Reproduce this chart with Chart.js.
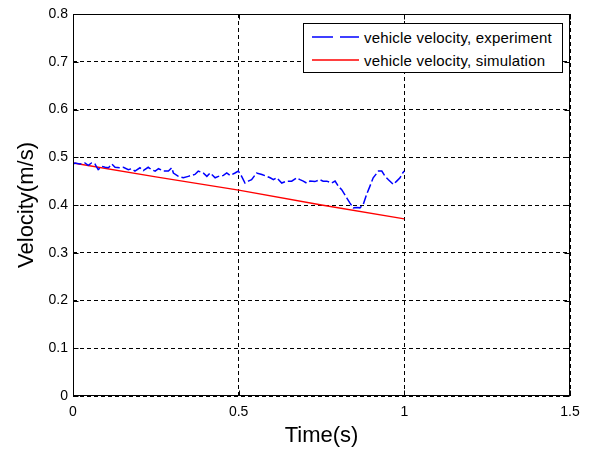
<!DOCTYPE html>
<html>
<head>
<meta charset="utf-8">
<script src="https://cdn.jsdelivr.net/npm/chart.js@4.4.0/dist/chart.umd.min.js"></script>
<style>
  html, body { margin: 0; padding: 0; background: #fff; }
  #omhulsel { position: relative; width: 590px; height: 451px; }
  #legenda {
    position: absolute; left: 303px; top: 23px; width: 260px; height: 50px;
    box-sizing: border-box; border: 1px solid #000; background: #fff;
    font: 15px "Liberation Sans", Arial, sans-serif; letter-spacing: 0.2px; color: #000;
  }
  .legenda-item { position: absolute; left: 8px; height: 20px; display: flex; align-items: center; white-space: nowrap; }
  .legenda-item svg { margin-right: 5px; }
</style>
</head>
<body>
<div id="omhulsel">
  <canvas id="grafiek" width="590" height="451"></canvas>
  <div id="legenda"></div>
</div>
<script>
// experiment (blauw)
const tijdExperiment = [
  0, 0.006, 0.021, 0.036, 0.046, 0.056, 0.066, 0.076, 0.087, 0.097,
  0.107, 0.117, 0.127, 0.142, 0.152, 0.167, 0.177, 0.187, 0.202, 0.212,
  0.227, 0.237, 0.248, 0.258, 0.273, 0.288, 0.298, 0.303, 0.318, 0.333,
  0.348, 0.368, 0.378, 0.393, 0.404, 0.414, 0.429, 0.439, 0.454, 0.464,
  0.474, 0.489, 0.499, 0.509, 0.519, 0.529, 0.539, 0.554, 0.570, 0.585,
  0.595, 0.605, 0.615, 0.630, 0.645, 0.660, 0.675, 0.685, 0.695, 0.705,
  0.715, 0.730, 0.745, 0.755, 0.766, 0.781, 0.791, 0.801, 0.811, 0.826,
  0.836, 0.846, 0.856, 0.866, 0.876, 0.886, 0.896, 0.906, 0.922, 0.932,
  0.942, 0.952, 0.967, 0.977, 0.987, 0.995, 1.0
];
const snelheidExperiment = [
  0.485, 0.488, 0.486, 0.488, 0.483, 0.488, 0.486, 0.474, 0.481, 0.479,
  0.478, 0.486, 0.479, 0.478, 0.479, 0.474, 0.476, 0.471, 0.478, 0.472,
  0.479, 0.474, 0.471, 0.476, 0.471, 0.471, 0.478, 0.467, 0.460, 0.457,
  0.460, 0.464, 0.471, 0.467, 0.460, 0.467, 0.457, 0.460, 0.462, 0.467,
  0.462, 0.467, 0.471, 0.460, 0.446, 0.450, 0.453, 0.467, 0.464, 0.460,
  0.457, 0.453, 0.457, 0.446, 0.450, 0.450, 0.457, 0.453, 0.450, 0.446,
  0.450, 0.449, 0.453, 0.450, 0.450, 0.446, 0.450, 0.439, 0.432, 0.415,
  0.404, 0.394, 0.395, 0.394, 0.401, 0.422, 0.439, 0.457, 0.471, 0.471,
  0.460, 0.453, 0.443, 0.450, 0.457, 0.467, 0.471
];

// simulatie (rood)
const tijdSimulatie = [0, 0.25, 0.5, 0.75, 1.0];
const snelheidSimulatie = [0.488, 0.459, 0.431, 0.400, 0.371];

const xTicks = [0, 0.5, 1, 1.5];
const xTickLabels = ['0', '0.5', '1', '1.5'];
const yTicks = [0, 0.1, 0.2, 0.3, 0.4, 0.5, 0.6, 0.7, 0.8];
const yTickLabels = ['0', '0.1', '0.2', '0.3', '0.4', '0.5', '0.6', '0.7', '0.8'];

const series = [
  { label: 'vehicle velocity, experiment', kleur: '#0000ff', dash: [9, 3], legendaDash: '21 7' },
  { label: 'vehicle velocity, simulation', kleur: '#ff0000', dash: [], legendaDash: '' },
];

Chart.defaults.font.family = '"Liberation Sans", Arial, sans-serif';
Chart.defaults.color = '#000';

function maakLegenda() {
  const element = document.getElementById('legenda');
  element.innerHTML = series.map((s, i) => `
    <span class="legenda-item" style="top:${3 + i * 23}px">
      <svg width="47" height="4"><line x1="0" y1="2" x2="47" y2="2" stroke="${s.kleur}" stroke-width="1.3" stroke-dasharray="${s.legendaDash}"/></svg>
      ${s.label}
    </span>
  `).join('');
}

// assenkader met kleine tickstreepjes naar binnen, zoals in MATLAB
const kaderPlugin = {
  id: 'kader',
  afterDatasetsDraw(chart) {
    const { ctx, chartArea: a, scales } = chart;
    const links = Math.round(a.left) + 0.5;
    const rechts = Math.round(a.right) - 0.5;
    const boven = Math.round(a.top) + 0.5;
    const onder = Math.round(a.bottom) - 0.5;
    const lijn = (x1, y1, x2, y2) => { ctx.beginPath(); ctx.moveTo(x1, y1); ctx.lineTo(x2, y2); ctx.stroke(); };
    ctx.save();
    ctx.setLineDash([]);
    ctx.strokeStyle = '#000';
    ctx.lineWidth = 1;
    ctx.strokeRect(links, boven, rechts - links, onder - boven);
    xTicks.forEach(v => {
      const px = Math.round(scales.x.getPixelForValue(v)) + 0.5;
      lijn(px, onder, px, onder - 5);
      lijn(px, boven, px, boven + 5);
    });
    yTicks.forEach(v => {
      const py = Math.round(scales.y.getPixelForValue(v)) + 0.5;
      lijn(links, py, links + 5, py);
      lijn(rechts, py, rechts - 5, py);
    });
    ctx.restore();
  },
};

const canvas = document.getElementById('grafiek');

new Chart(canvas, {
  type: 'line',
  data: {
    datasets: [
      {
        label: series[0].label,
        data: tijdExperiment.map((t, i) => ({ x: t, y: snelheidExperiment[i] })),
        borderColor: series[0].kleur,
        borderWidth: 1.5,
        borderDash: series[0].dash,
        pointRadius: 0,
        tension: 0,
      },
      {
        label: series[1].label,
        data: tijdSimulatie.map((t, i) => ({ x: t, y: snelheidSimulatie[i] })),
        borderColor: series[1].kleur,
        borderWidth: 1.3,
        pointRadius: 0,
        tension: 0,
      },
    ],
  },
  options: {
    responsive: false,
    animation: false,
    events: [],
    layout: { padding: { top: 14, right: 20, left: 0, bottom: 0 } },
    plugins: { legend: { display: false }, tooltip: { enabled: false } },
    scales: {
      x: {
        type: 'linear',
        min: 0,
        max: 1.5,
        afterBuildTicks: scale => { scale.ticks = xTicks.map(value => ({ value })); },
        afterFit: scale => { scale.height = 55; },
        ticks: { callback: (v, i) => xTickLabels[i], padding: 8, maxRotation: 0, font: { size: 14 }, color: '#000' },
        grid: { color: '#000', drawTicks: false, lineWidth: 1 },
        border: { display: false, dash: [4, 3] },
        title: { display: true, text: 'Time(s)', font: { size: 22 }, color: '#000', padding: { top: 0, bottom: 2 } },
      },
      y: {
        type: 'linear',
        min: 0,
        max: 0.8,
        afterBuildTicks: scale => { scale.ticks = yTicks.map(value => ({ value })); },
        afterFit: scale => { scale.width = 73; },
        ticks: { callback: (v, i) => yTickLabels[i], padding: 5, font: { size: 14 }, color: '#000' },
        grid: { color: '#000', drawTicks: false, lineWidth: 1 },
        border: { display: false, dash: [4, 3] },
        title: { display: true, text: 'Velocity(m/s)', font: { size: 22 }, color: '#000', padding: { top: 14, bottom: 0 } },
      },
    },
  },
  plugins: [kaderPlugin],
});

maakLegenda();
</script>
</body>
</html>
